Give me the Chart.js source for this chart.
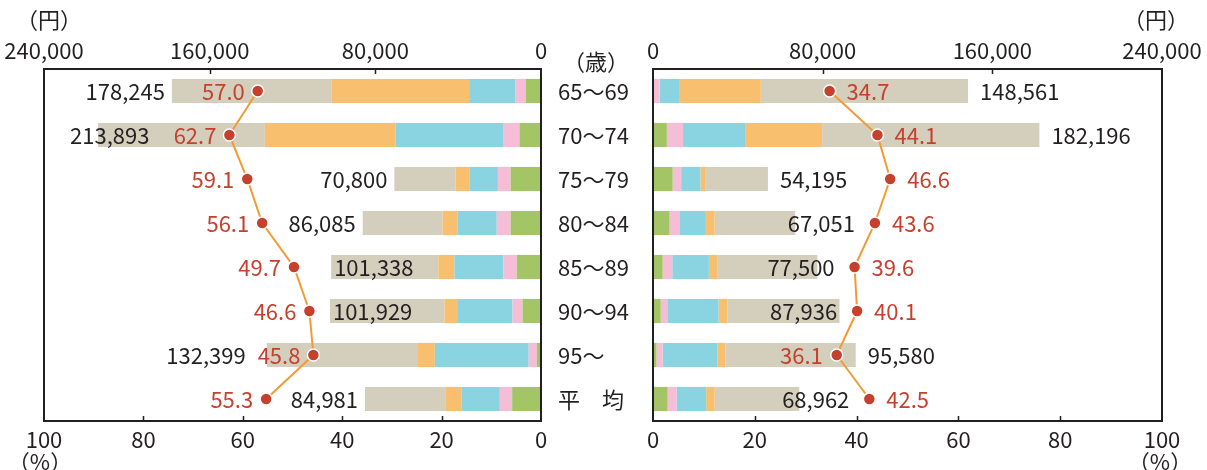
<!DOCTYPE html>
<html>
<head>
<meta charset="utf-8">
<script src="https://cdn.jsdelivr.net/npm/chart.js@4"></script>
<style>
  html, body { margin: 0; padding: 0; background: #fff; }
  #wrap { position: relative; width: 1207px; height: 470px; overflow: hidden; }
  canvas { position: absolute; top: 0; }
  #left { left: 0; }
  #right { left: 545px; }
</style>
</head>
<body>
<div id="wrap">
  <canvas id="left" width="550" height="470"></canvas>
  <canvas id="right" width="662" height="470"></canvas>
</div>
<script>
// Age groups (rows, top to bottom)
const ages = ['65～69', '70～74', '75～79', '80～84', '85～89', '90～94', '95～', '平　均'];

// Left panel (yen, stacked from the centre outwards)
const leftGreen  = [7240, 10390, 14670, 14670, 11700, 8920, 2040, 13930];
const leftPink   = [5010, 7620, 6130, 6680, 6500, 4830, 3900, 5940];
const leftCyan   = [22470, 52170, 13560, 18940, 23590, 26750, 45320, 18570];
const leftOrange = [66300, 63150, 6870, 7240, 7800, 6130, 8540, 7800];
const leftGray   = [77225, 80563, 29570, 38555, 51748, 55299, 72599, 38741];
const leftTotal  = [178245, 213893, 70800, 86085, 101338, 101929, 132399, 84981];
const leftPct    = [57.0, 62.7, 59.1, 56.1, 49.7, 46.6, 45.8, 55.3];

// Right panel
const rightGreen  = [300, 6540, 9270, 7810, 4540, 3630, 1640, 6900];
const rightPink   = [2900, 7630, 4000, 4910, 4540, 3450, 2910, 4180];
const rightCyan   = [9450, 29250, 9090, 11810, 17260, 23800, 25800, 13990];
const rightOrange = [38160, 36340, 2540, 4540, 4180, 4180, 3820, 4000];
const rightGray   = [97751, 102436, 29295, 37981, 46980, 52876, 61410, 39892];
const rightTotal  = [148561, 182196, 54195, 67051, 77500, 87936, 95580, 68962];
const rightPct    = [34.7, 44.1, 46.6, 43.6, 39.6, 40.1, 36.1, 42.5];

// Axis ticks
const yenTicks = [0, 80000, 160000, 240000];
const pctTicks = [0, 20, 40, 60, 80, 100];

const FONT_FAMILY = '"Noto Sans CJK JP", "Noto Sans", sans-serif';
const FONT_SIZE = 22;
const FONT = `${FONT_SIZE}px ${FONT_FAMILY}`;
const INK = '#231f20';
const RED = '#c5402d';
const LINE = '#f39a32';
const COLORS = ['#a4c566', '#f6bdd7', '#8ad4e2', '#f8bf6f', '#d4cebd'];

const fmt = v => v.toLocaleString('en-US');

function span(anchor, dir, w) {
  return dir > 0 ? [anchor, anchor + w] : [anchor - w, anchor];
}
// overlap test with a little breathing room
function hit(a, b, pad = 6) {
  return a[0] - pad < b[1] && b[0] - pad < a[1];
}

// Frame, inner ticks, value labels, unit captions
function panelPlugin(side, totals, pcts) {
  return {
    id: 'panel' + side,
    afterDraw(chart) {
      const {ctx, chartArea: a, scales} = chart;
      const xm = scales.x, xp = scales.xp, y = scales.y;
      ctx.save();

      ctx.strokeStyle = INK;
      ctx.lineWidth = 2;
      ctx.strokeRect(a.left, a.top, a.right - a.left, a.bottom - a.top);

      ctx.lineWidth = 1.5;
      ctx.beginPath();
      yenTicks.forEach(v => {
        if (v <= xm.min || v >= xm.max) return;
        const x = Math.round(xm.getPixelForValue(v)) + 0.5;
        ctx.moveTo(x, a.top);
        ctx.lineTo(x, a.top + 5);
      });
      pctTicks.forEach(v => {
        if (v <= xp.min || v >= xp.max) return;
        const x = Math.round(xp.getPixelForValue(v)) + 0.5;
        ctx.moveTo(x, a.bottom);
        ctx.lineTo(x, a.bottom - 5);
      });
      ctx.stroke();

      ctx.font = FONT;
      ctx.textBaseline = 'middle';
      const o = side;
      const off = o < 0 ? 13 : 17;
      totals.forEach((tot, i) => {
        const cy = y.getPixelForValue(i);
        const end = xm.getPixelForValue(tot);
        const m = xp.getPixelForValue(pcts[i]);
        const tTxt = fmt(tot);
        const pTxt = pcts[i].toFixed(1);
        const tw = ctx.measureText(tTxt).width;
        const pw = ctx.measureText(pTxt).width;
        let P = span(m + o * off, o, pw);
        const M = [m - 8, m + 8];
        const gap = o < 0 ? 7 : 12;
        let T = span(end + o * gap, o, tw);
        if (o * (m - end) > 0) {
          // marker sits beyond the bar end
          if (hit(T, M) || hit(T, P)) {
            T = o < 0 ? span(Math.max(m + 20, end + 3), 1, tw) : span(m - 20, -1, tw);
          }
        } else if (hit(T, P)) {
          if (o > 0) P = span(m - 14, -1, pw);
          else T = span(P[0] - 12, -1, tw);
        }
        if (o < 0 && T[0] < a.left + 26) T = [a.left + 26, a.left + 26 + tw];
        if (o > 0 && T[1] > a.right - 26) T = [a.right - 26 - tw, a.right - 26];

        ctx.textAlign = 'left';
        ctx.fillStyle = INK;
        ctx.fillText(tTxt, T[0], cy + 1);
        ctx.fillStyle = RED;
        ctx.fillText(pTxt, P[0], cy + 1);
      });

      ctx.fillStyle = INK;
      ctx.textAlign = 'center';
      if (o < 0) {
        ctx.fillText('（円）', a.left + 5, 20);
        ctx.fillText('（%）', a.left - 4, 462);
      } else {
        ctx.fillText('（円）', a.right - 6, 20);
        ctx.fillText('（%）', a.right - 2, 462);
        ctx.fillText('（歳）', a.left - 57, 62);
        ctx.textAlign = 'left';
        ages.forEach((lab, i) => {
          ctx.fillText(lab, a.left - 95, y.getPixelForValue(i) + 1);
        });
      }
      ctx.restore();
    }
  };
}

function makeChart(id, side, segs, totals, pcts, padding) {
  const tickFont = {family: FONT_FAMILY, size: FONT_SIZE};
  return new Chart(document.getElementById(id), {
    type: 'bar',
    data: {
      labels: ages,
      datasets: [
        {
          type: 'line',
          indexAxis: 'y',
          data: pcts,
          xAxisID: 'xp',
          order: 0,
          borderColor: LINE,
          borderWidth: 2,
          tension: 0,
          pointRadius: 6,
          pointBackgroundColor: RED,
          pointBorderColor: '#fff',
          pointBorderWidth: 1.5
        },
        ...segs.map((vals, k) => ({
          data: vals,
          xAxisID: 'x',
          order: 1,
          backgroundColor: COLORS[k],
          borderWidth: 0,
          categoryPercentage: 1,
          barPercentage: 0.55
        }))
      ]
    },
    options: {
      indexAxis: 'y',
      responsive: false,
      animation: false,
      layout: {padding},
      plugins: {legend: {display: false}, tooltip: {enabled: false}},
      scales: {
        x: {
          type: 'linear',
          position: 'top',
          stacked: true,
          reverse: side < 0,
          min: 0,
          max: 240000,
          afterBuildTicks: s => { s.ticks = yenTicks.map(value => ({value})); },
          ticks: {callback: v => fmt(v), font: tickFont, color: INK, padding: 5, maxRotation: 0, autoSkip: false},
          grid: {display: false, drawTicks: false},
          border: {display: false},
          afterFit: s => { s.height = 69; }
        },
        xp: {
          type: 'linear',
          position: 'bottom',
          reverse: side < 0,
          min: 0,
          max: 100,
          afterBuildTicks: s => { s.ticks = pctTicks.map(value => ({value})); },
          ticks: {font: tickFont, color: INK, padding: 5, maxRotation: 0, autoSkip: false},
          grid: {display: false, drawTicks: false},
          border: {display: false},
          afterFit: s => { s.height = 49; }
        },
        y: {stacked: true, display: false}
      }
    },
    plugins: [panelPlugin(side, totals, pcts)]
  });
}

makeChart('left', -1,
  [leftGreen, leftPink, leftCyan, leftOrange, leftGray],
  leftTotal, leftPct, {left: 44, right: 9, top: 0, bottom: 0});

makeChart('right', 1,
  [rightGreen, rightPink, rightCyan, rightOrange, rightGray],
  rightTotal, rightPct, {left: 108, right: 45, top: 0, bottom: 0});
</script>
</body>
</html>
